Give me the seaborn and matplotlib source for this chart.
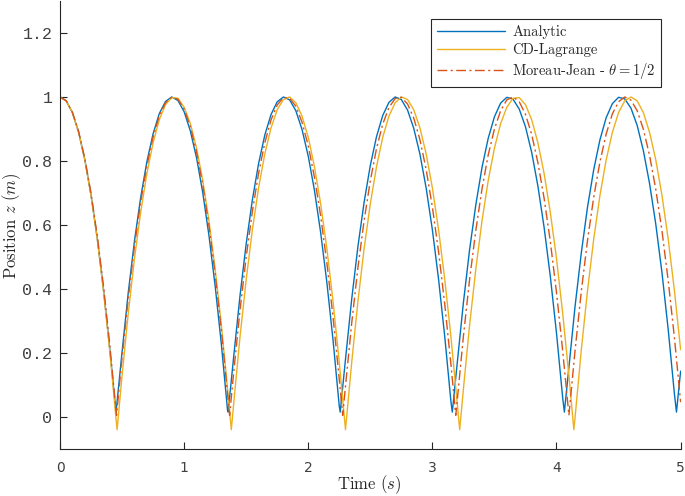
import numpy as np
import pandas as pd
import matplotlib
matplotlib.use('Agg')
import matplotlib.pyplot as plt
import seaborn as sns

t_grid = np.linspace(0, 5, 101)

# Analytic solution, z (m) at t_grid
z_analytic = [
    1.000, 0.988, 0.951, 0.890, 0.804, 0.693, 0.559, 0.399, 0.215, 0.020,
    0.203, 0.389, 0.550, 0.686, 0.798, 0.885, 0.948, 0.986, 1.000, 0.989,
    0.954, 0.894, 0.810, 0.701, 0.567, 0.409, 0.227, 0.020, 0.191, 0.378,
    0.541, 0.679, 0.792, 0.881, 0.945, 0.985, 1.000, 0.991, 0.957, 0.898,
    0.815, 0.708, 0.576, 0.420, 0.239, 0.033, 0.180, 0.368, 0.532, 0.671,
    0.786, 0.876, 0.942, 0.983, 1.000, 0.992, 0.959, 0.902, 0.821, 0.715,
    0.585, 0.430, 0.250, 0.046, 0.167, 0.357, 0.523, 0.663, 0.780, 0.871,
    0.938, 0.981, 0.999, 0.993, 0.962, 0.907, 0.827, 0.722, 0.593, 0.440,
    0.262, 0.059, 0.155, 0.347, 0.513, 0.656, 0.773, 0.866, 0.935, 0.979,
    0.999, 0.994, 0.965, 0.911, 0.832, 0.729, 0.602, 0.450, 0.273, 0.072,
    0.143,
]
# CD-Lagrange scheme
z_cd = [
    1.000, 0.988, 0.951, 0.889, 0.803, 0.692, 0.556, 0.395, 0.210, 0.000,
    0.129, 0.324, 0.495, 0.640, 0.761, 0.857, 0.929, 0.976, 0.998, 0.996,
    0.968, 0.917, 0.840, 0.739, 0.613, 0.462, 0.287, 0.087, 0.044, 0.249,
    0.429, 0.585, 0.716, 0.822, 0.903, 0.960, 0.992, 1.000, 0.982, 0.940,
    0.874, 0.782, 0.666, 0.526, 0.360, 0.170, -0.040, 0.170, 0.360, 0.526,
    0.666, 0.782, 0.874, 0.940, 0.982, 1.000, 0.992, 0.960, 0.903, 0.822,
    0.716, 0.585, 0.429, 0.249, 0.044, 0.087, 0.287, 0.462, 0.613, 0.739,
    0.840, 0.917, 0.968, 0.996, 0.998, 0.976, 0.929, 0.857, 0.761, 0.640,
    0.495, 0.324, 0.129, 0.000, 0.210, 0.395, 0.556, 0.692, 0.803, 0.889,
    0.951, 0.988, 1.000, 0.988, 0.951, 0.889, 0.803, 0.692, 0.556, 0.395,
    0.210,
]
# Moreau-Jean scheme, theta = 1/2
z_mj = [
    1.000, 0.988, 0.952, 0.892, 0.807, 0.699, 0.566, 0.410, 0.229, 0.024,
    0.186, 0.372, 0.534, 0.672, 0.785, 0.875, 0.941, 0.982, 0.999, 0.993,
    0.962, 0.907, 0.828, 0.725, 0.597, 0.446, 0.271, 0.071, 0.142, 0.333,
    0.500, 0.643, 0.762, 0.857, 0.928, 0.975, 0.998, 0.996, 0.971, 0.921,
    0.847, 0.749, 0.628, 0.481, 0.311, 0.117, 0.096, 0.293, 0.466, 0.614,
    0.738, 0.839, 0.915, 0.967, 0.995, 0.999, 0.978, 0.934, 0.866, 0.773,
    0.656, 0.516, 0.351, 0.162, 0.050, 0.252, 0.430, 0.583, 0.713, 0.819,
    0.900, 0.957, 0.991, 1.000, 0.985, 0.946, 0.883, 0.795, 0.684, 0.549,
    0.389, 0.206, 0.005, 0.209, 0.393, 0.552, 0.687, 0.797, 0.884, 0.947,
    0.985, 1.000, 0.990, 0.957, 0.899, 0.817, 0.711, 0.581, 0.426, 0.248,
    0.046,
]

# impact points (bottom of each bounce)
t_imp_analytic = [0.4515, 1.3545, 2.2575, 3.1605, 4.0635, 4.9665]
z_imp_analytic = [0.015, 0.015, 0.015, 0.015, 0.015, 0.015]
t_imp_cd = [0.46, 1.38, 3.22, 4.14]
z_imp_cd = [-0.04, -0.04, -0.04, -0.04]
t_imp_mj = [0.4555, 1.3665, 2.2775, 3.1885]
z_imp_mj = [0.005, 0.005, 0.005, 0.005]

names = ['Analytic', 'CD-Lagrange', r'Moreau-Jean - $\theta = 1/2$']
colors = ['#0072BD', '#EDB120', '#D95319']

frames = []
for name, z, ti, zi in [(names[0], z_analytic, t_imp_analytic, z_imp_analytic),
                        (names[1], z_cd, t_imp_cd, z_imp_cd),
                        (names[2], z_mj, t_imp_mj, z_imp_mj)]:
    d = pd.DataFrame({'t': np.concatenate([t_grid, ti]),
                      'z': np.concatenate([z, zi])})
    d['series'] = name
    frames.append(d.sort_values('t'))
df = pd.concat(frames, ignore_index=True)

sns.set_theme(style='ticks')
plt.rcParams['font.family'] = ['DejaVu Sans']
plt.rcParams['mathtext.fontset'] = 'cm'

fig = plt.figure(figsize=(6.85, 4.96), dpi=100)
ax = fig.add_axes([0.0876, 0.095, 0.906, 0.903])

sns.lineplot(data=df, x='t', y='z', hue='series', style='series',
             hue_order=names, style_order=names,
             palette=dict(zip(names, colors)),
             dashes={names[0]: '', names[1]: '', names[2]: (7, 2.5, 1.5, 2.5)},
             estimator=None, sort=True, lw=1.0, ax=ax)

ax.set_xlim(0, 5)
ax.set_ylim(-0.1, 1.3)
ax.set_xticks([0, 1, 2, 3, 4, 5])
ax.set_xticklabels(['0', '1', '2', '3', '4', '5'])
ax.set_yticks([0, 0.2, 0.4, 0.6, 0.8, 1.0, 1.2])
ax.set_yticklabels(['0', '0.2', '0.4', '0.6', '0.8', '1', '1.2'])
ax.tick_params(direction='in', length=5, width=0.8, color='#262626')
ax.tick_params(axis='x', labelsize=10, labelcolor='#404040', pad=9)
ax.tick_params(axis='y', labelsize=12, labelcolor='#404040', pad=5.5)
for lab in ax.get_yticklabels():
    lab.set_family('Liberation Mono')

for side in ['top', 'right']:
    ax.spines[side].set_visible(False)
for side in ['left', 'bottom']:
    ax.spines[side].set_color('#262626')
    ax.spines[side].set_linewidth(0.8)

ax.set_xlabel('Time $(s)$', family='cmr10', fontsize=12, color='#262626', va='center')
ax.set_ylabel('Position $z$ $(m)$', family='cmr10', fontsize=12, color='#262626', va='center')
ax.xaxis.set_label_coords(0.499, -0.080)
ax.yaxis.set_label_coords(-0.078, 0.498)

handles, labels = ax.get_legend_handles_labels()
leg = ax.legend(handles, labels, loc='upper right', bbox_to_anchor=(0.969, 0.959),
                borderaxespad=0, frameon=True, fancybox=False, framealpha=1,
                edgecolor='#262626', handlelength=4.7, handletextpad=0.5,
                labelspacing=0.28, borderpad=0.38,
                prop={'family': 'cmr10', 'size': 10.5})
leg.get_frame().set_linewidth(0.8)

fig.savefig('out.png', dpi=100)
